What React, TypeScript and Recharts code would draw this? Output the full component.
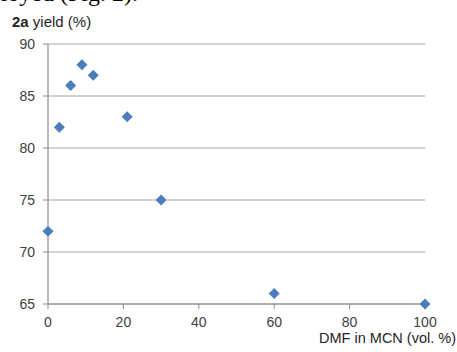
import React from "react";
import { ScatterChart, Scatter, XAxis, YAxis, CartesianGrid } from "recharts";

const dmfPercent = [0, 3, 6, 9, 12, 21, 30, 60, 100];
const yieldPercent = [72, 82, 86, 88, 87, 83, 75, 66, 65];
const xTicks = [0, 20, 40, 60, 80, 100];
const yTicks = [65, 70, 75, 80, 85, 90];

const data = dmfPercent.map((x, i) => ({ x, y: yieldPercent[i] }));

const Diamond = (props: any) => {
  const { cx, cy } = props;
  if (cx == null || cy == null) return null;
  const r = 5.5;
  return (
    <polygon
      points={`${cx},${cy - r} ${cx + r},${cy} ${cx},${cy + r} ${cx - r},${cy}`}
      fill="#4a7ebb"
    />
  );
};

const tickStyle = { fontFamily: "'Liberation Sans', Arial, sans-serif", fontSize: 14, fill: "#404040" };

export default function App() {
  return (
    <div style={{ position: "absolute", left: 0, top: 0, width: 457, height: 352, overflow: "hidden", background: "#fff" }}>
      <div
        style={{
          position: "absolute",
          right: 457 - 138,
          top: -19,
          fontFamily: "'Liberation Serif', 'Times New Roman', serif",
          fontSize: 24,
          lineHeight: "24px",
          whiteSpace: "nowrap",
          color: "#000",
        }}
      >
        employed (Fig. 2).
      </div>
      <div
        style={{
          position: "absolute",
          left: 12,
          top: 13,
          fontFamily: "'Liberation Sans', Arial, sans-serif",
          fontSize: 15,
          color: "#262626",
          whiteSpace: "nowrap",
        }}
      >
        <b>2a</b> yield (%)
      </div>
      <div
        style={{
          position: "absolute",
          right: 1,
          top: 330,
          fontFamily: "'Liberation Sans', Arial, sans-serif",
          fontSize: 14.5,
          color: "#262626",
          whiteSpace: "nowrap",
        }}
      >
        DMF in MCN (vol. %)
      </div>
      <ScatterChart width={457} height={352} margin={{ top: 44, right: 32, bottom: 18, left: 8 }} style={{ overflow: "visible" }}>
        <CartesianGrid horizontal vertical={false} stroke="#a6a6a6" strokeWidth={1.2} />
        <XAxis
          type="number"
          dataKey="x"
          domain={[0, 100]}
          ticks={xTicks}
          height={30}
          tickSize={5}
          tickMargin={8}
          tick={tickStyle}
          axisLine={{ stroke: "#8c8c8c", strokeWidth: 1.2 }}
          tickLine={{ stroke: "#8c8c8c" }}
        />
        <YAxis
          type="number"
          dataKey="y"
          domain={[65, 90]}
          ticks={yTicks}
          width={40}
          tickSize={5}
          tickMargin={8}
          tick={tickStyle}
          axisLine={{ stroke: "#8c8c8c", strokeWidth: 1.2 }}
          tickLine={{ stroke: "#8c8c8c" }}
        />
        <Scatter data={data} shape={<Diamond />} isAnimationActive={false} />
      </ScatterChart>
    </div>
  );
}
